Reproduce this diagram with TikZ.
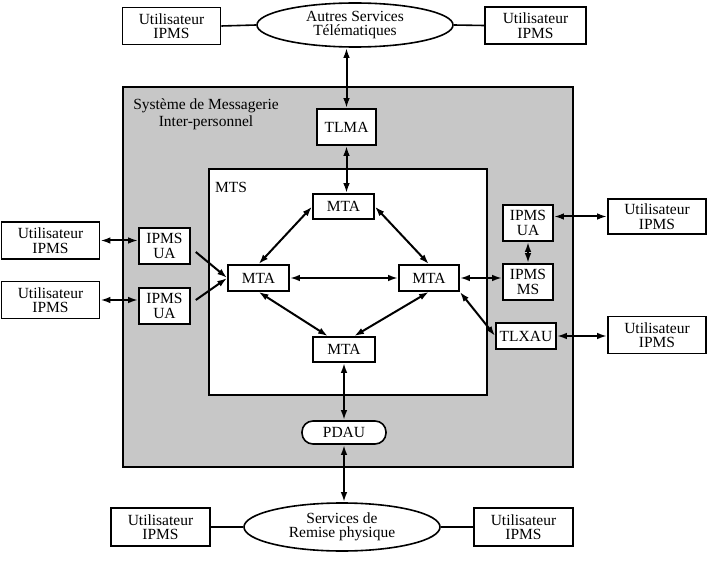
\documentclass[tikz,border=0pt]{standalone}
\usepackage{fontspec}
\setmainfont{Liberation Serif}
\usetikzlibrary{shapes.geometric,arrows.meta}

\begin{document}
\begin{tikzpicture}[x=1pt, y=-1pt, font=\fontsize{15.5}{14.5}\selectfont,
  usr/.style={draw, line width=1.6pt, align=center, minimum width=98pt, minimum height=37pt, inner sep=1pt},
  svc/.style={draw, ellipse, line width=1.6pt, align=center, minimum width=196pt, minimum height=44pt, inner sep=0pt},
  agent/.style={draw, fill=white, line width=1.6pt, align=center, inner sep=1pt},
  link/.style={line width=1.6pt},
  flow/.style={line width=2pt, {Latex[length=10pt,width=6.5pt]}-{Latex[length=10pt,width=6.5pt]}},
  oneway/.style={line width=2pt, -{Latex[length=10pt,width=6.5pt]}}]
\useasboundingbox (0,0) rectangle (713,583);
% zones
\draw[line width=1.6pt, fill=black!22] (123,87) rectangle (573,467);
\draw[line width=1.6pt, fill=white] (209,169) rectangle (487,395);
\node[align=center](sys) at (206,114){Système de Messagerie\\[2.5pt]Inter-personnel};
\node[anchor=base west, inner sep=0pt](mts) at (215,193){MTS};

% top row
\node[usr](u1) at (171.5,26){Utilisateur\\IPMS};
\node[svc](as) at (355,25){Autres Services\\Télématiques};
\node[usr, minimum width=101pt](u2) at (535.5,25.5){Utilisateur\\IPMS};

% inside the messaging system
\node[agent, minimum width=59pt, minimum height=36pt](tlma) at (346.5,127){TLMA};
\node[agent, minimum width=61pt, minimum height=25pt](mtat) at (343.5,206.5){MTA};
\node[agent, minimum width=61pt, minimum height=26pt](mtal) at (258.5,278){MTA};
\node[agent, minimum width=60pt, minimum height=26pt](mtar) at (429,278){MTA};
\node[agent, minimum width=62pt, minimum height=25pt](mtab) at (344,349.5){MTA};
\node[agent, rounded corners=11pt, minimum width=84pt, minimum height=23pt](pdau) at (344,432.5){PDAU};

\node[agent, minimum width=51pt, minimum height=36pt](uaL1) at (164.5,246){IPMS\\UA};
\node[agent, minimum width=51pt, minimum height=36pt](uaL2) at (164.5,306){IPMS\\UA};
\node[agent, minimum width=50pt, minimum height=36pt](uaR) at (528,223){IPMS\\UA};
\node[agent, minimum width=50pt, minimum height=36pt](ms) at (528,282){IPMS\\MS};
\node[agent, minimum width=60pt, minimum height=26pt](tlx) at (526,336){TLXAU};

% side users
\node[usr](uL1) at (50.5,240.5){Utilisateur\\IPMS};
\node[usr](uL2) at (50.5,300){Utilisateur\\IPMS};
\node[usr, minimum height=35pt](uR1) at (657,216.5){Utilisateur\\IPMS};
\node[usr](uR2) at (657,335){Utilisateur\\IPMS};

% bottom row
\node[usr, minimum width=99pt, minimum height=38pt](u3) at (160.5,527){Utilisateur\\IPMS};
\node[svc, minimum height=48pt](rp) at (342,527){Services de\\Remise physique};
\node[usr, minimum width=99pt, minimum height=38pt](u4) at (523.5,527){Utilisateur\\IPMS};

% plain links
\draw[link] (u1.east) -- (as.west);
\draw[link] (as.east) -- (u2.west);
\draw[link] (u3.east) -- (rp.west);
\draw[link] (rp.east) -- (u4.west);

% exchanges
\draw[flow] (tlma.north) -- (tlma.north |- as.south);
\draw[flow] (tlma.south) -- (tlma.south |- mtat.north);
\draw[flow] (mtal.north) -- (mtat.west);
\draw[flow] (mtat.east) -- (mtar.north);
\draw[flow] (mtal.east) -- (mtar.west);
\draw[flow] (mtal.south) -- ([xshift=-16pt]mtab.north);
\draw[flow] (mtar.south) -- ([xshift=10pt]mtab.north);
\draw[flow] (mtab.south) -- (mtab.south |- pdau.north);
\draw[flow] (pdau.south) -- (pdau.south |- rp.north);

\draw[flow] (uL1.east) -- (uL1.east -| uaL1.west);
\draw[flow] (uL2.east) -- (uL2.east -| uaL2.west);
\draw[oneway] ([xshift=5pt,yshift=-6pt]uaL1.east) -- (mtal.west);
\draw[oneway] ([xshift=5pt,yshift=6pt]uaL2.east) -- (mtal.west);

\draw[flow] (uR1.west) -- (uR1.west -| uaR.east);
\draw[flow] (uaR.south) -- (ms.north);
\draw[flow] (mtar.east) -- (mtar.east -| ms.west);
\draw[flow] (mtar.south east) -- (tlx.west);
\draw[flow] (tlx.east) -- (tlx.east -| uR2.west);
\end{tikzpicture}
\end{document}
